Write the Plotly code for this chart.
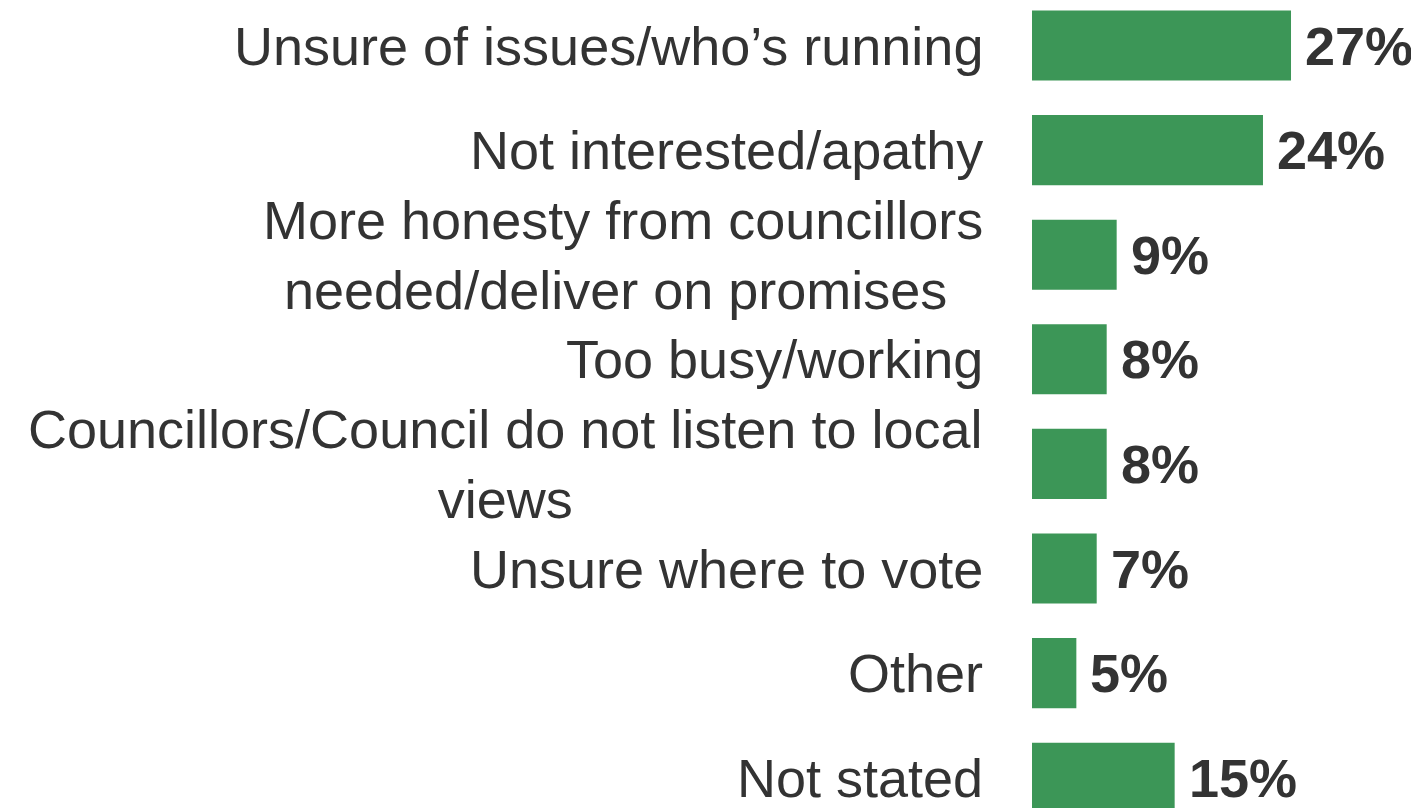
import plotly.graph_objects as go

categories = [
    "Unsure of issues/who’s running",
    "Not interested/apathy",
    "More honesty from councillors<br>needed/deliver on promises ",
    "Too busy/working",
    "Councillors/Council do not listen to local<br>views",
    "Unsure where to vote",
    "Other",
    "Not stated",
]
values = [26.98, 24.06, 8.82, 7.78, 7.78, 6.74, 4.62, 14.86]
value_labels = ["27%", "24%", "9%", "8%", "8%", "7%", "5%", "15%"]

BAR = "#3c9657"
TXT = "#333333"
FONT = "Liberation Sans, Arial, sans-serif"

ypos = list(range(len(categories)))

fig = go.Figure(go.Bar(
    x=values, y=ypos, orientation="h",
    marker=dict(color=BAR, line=dict(width=0)),
    width=0.67, hoverinfo="skip",
))

# page body has an 8px margin; figure coordinates are page coordinates - 8
OFF = 8
W, H = 1419 - OFF, 808 - OFF
left = 1032 - OFF
label_right = 985 - OFF
row0 = 45.5 - OFF
step = 104.6

for i, (cat, v, lab) in enumerate(zip(categories, values, value_labels)):
    fig.add_annotation(
        x=-(left - label_right) / (W - left), xref="paper", y=i, yref="y",
        text=cat, showarrow=False, xanchor="right", yanchor="middle",
        align="center", font=dict(family=FONT, size=54, color=TXT),
    )
    fig.add_annotation(
        x=v, xref="x", y=i, yref="y", text="<b>" + lab + "</b>",
        showarrow=False, xanchor="left", yanchor="middle", xshift=12,
        font=dict(family=FONT, size=54, color=TXT),
    )

px_per = 9.6
fig.update_layout(
    width=W, height=H,
    margin=dict(l=left, r=0, t=0, b=0),
    paper_bgcolor="white", plot_bgcolor="white",
    showlegend=False,
    xaxis=dict(range=[0, (W - left) / px_per], visible=False, fixedrange=True),
    yaxis=dict(range=[(H - row0) / step, -row0 / step], visible=False, fixedrange=True),
)
fig.write_html("out.html")
